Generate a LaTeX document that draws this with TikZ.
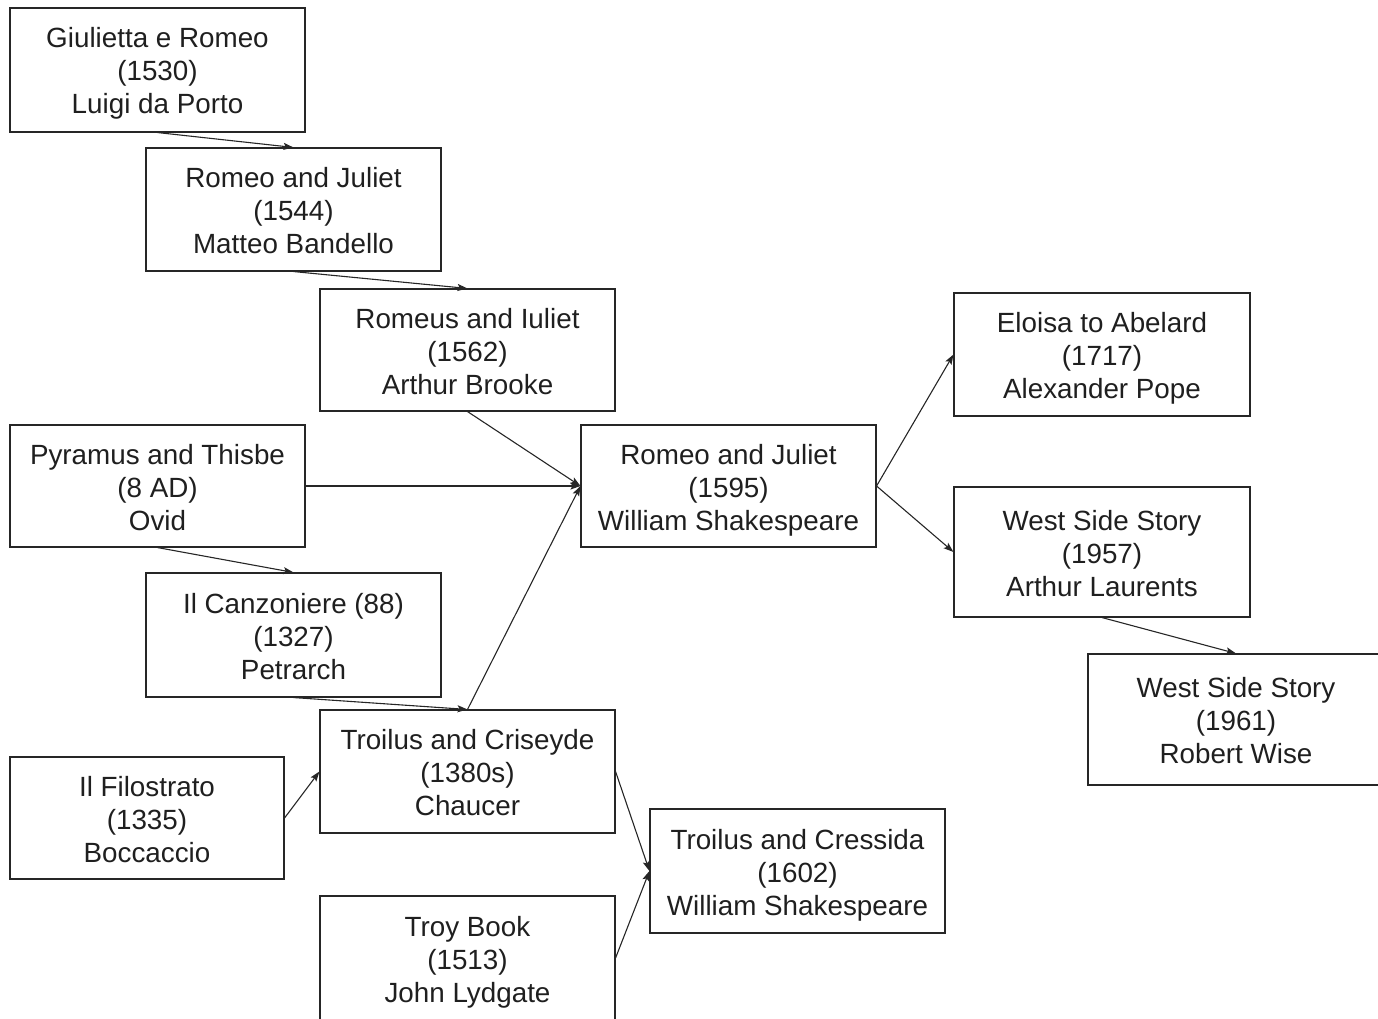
\documentclass[tikz,border=0pt]{standalone}
\usepackage{fontspec}
\setmainfont{Liberation Sans}
\usetikzlibrary{arrows.meta}
\newcommand\wtxt[3]{\rule{0pt}{28pt}#1\\#2\\#3\rule[-6pt]{0pt}{6pt}}
\begin{document}
\begin{tikzpicture}[x=1pt,y=-1pt,
  work/.style={draw=black!85, line width=1.1pt, rectangle, inner sep=0pt,
    align=center, font={\fontsize{27.8}{33}\selectfont}, text=black!88},
  link/.style={draw=black!85, line width=1.1pt, -{Stealth[length=10pt,width=7pt,inset=2pt]}}]
\useasboundingbox (0,0) rectangle (1378,1019);
\node[work, minimum width=295pt, minimum height=124pt] (gr) at (157.5,70) {\wtxt{Giulietta e Romeo}{(1530)}{Luigi da Porto}};
\node[work, minimum width=295pt, minimum height=123pt] (rj44) at (293.5,209.5) {\wtxt{Romeo and Juliet}{(1544)}{Matteo Bandello}};
\node[work, minimum width=295pt, minimum height=122pt] (rom) at (467.5,350) {\wtxt{Romeus and Iuliet}{(1562)}{Arthur Brooke}};
\node[work, minimum width=295pt, minimum height=122pt] (pyr) at (157.5,486) {\wtxt{Pyramus and Thisbe}{(8 AD)}{Ovid}};
\node[work, minimum width=295pt, minimum height=124pt] (can) at (293.5,635) {\wtxt{Il Canzoniere (88)}{(1327)}{Petrarch}};
\node[work, minimum width=295pt, minimum height=123pt] (tc) at (467.5,771.5) {\wtxt{Troilus and Criseyde}{(1380s)}{Chaucer}};
\node[work, minimum width=274pt, minimum height=122pt] (fil) at (147,818) {\wtxt{Il Filostrato}{(1335)}{Boccaccio}};
\node[work, minimum width=295pt, minimum height=124pt] (troy) at (467.5,958) {\wtxt{Troy Book}{(1513)}{John Lydgate}};
\node[work, minimum width=295pt, minimum height=122pt] (rj95) at (728.5,486) {\wtxt{Romeo and Juliet}{(1595)}{William Shakespeare}};
\node[work, minimum width=295pt, minimum height=124pt] (tcr) at (797.5,871) {\wtxt{Troilus and Cressida}{(1602)}{William Shakespeare}};
\node[work, minimum width=296pt, minimum height=123pt] (elo) at (1102,354.5) {\wtxt{Eloisa to Abelard}{(1717)}{Alexander Pope}};
\node[work, minimum width=296pt, minimum height=130pt] (ws57) at (1102,552) {\wtxt{West Side Story}{(1957)}{Arthur Laurents}};
\node[work, minimum width=296pt, minimum height=131pt] (ws61) at (1236,719.5) {\wtxt{West Side Story}{(1961)}{Robert Wise}};
\draw[link] (gr.south) -- (rj44.north);
\draw[link] (rj44.south) -- (rom.north);
\draw[link] (rom.south) -- (rj95.west);
\draw[link] (pyr.east) -- (rj95.west);
\draw[link] (pyr.south) -- (can.north);
\draw[link] (can.south) -- (tc.north);
\draw[link] (tc.north) -- (rj95.west);
\draw[link] (fil.east) -- (tc.west);
\draw[link] (tc.east) -- (tcr.west);
\draw[link] (troy.east) -- (tcr.west);
\draw[link] (rj95.east) -- (elo.west);
\draw[link] (rj95.east) -- (ws57.west);
\draw[link] (ws57.south) -- (ws61.north);
\end{tikzpicture}
\end{document}
